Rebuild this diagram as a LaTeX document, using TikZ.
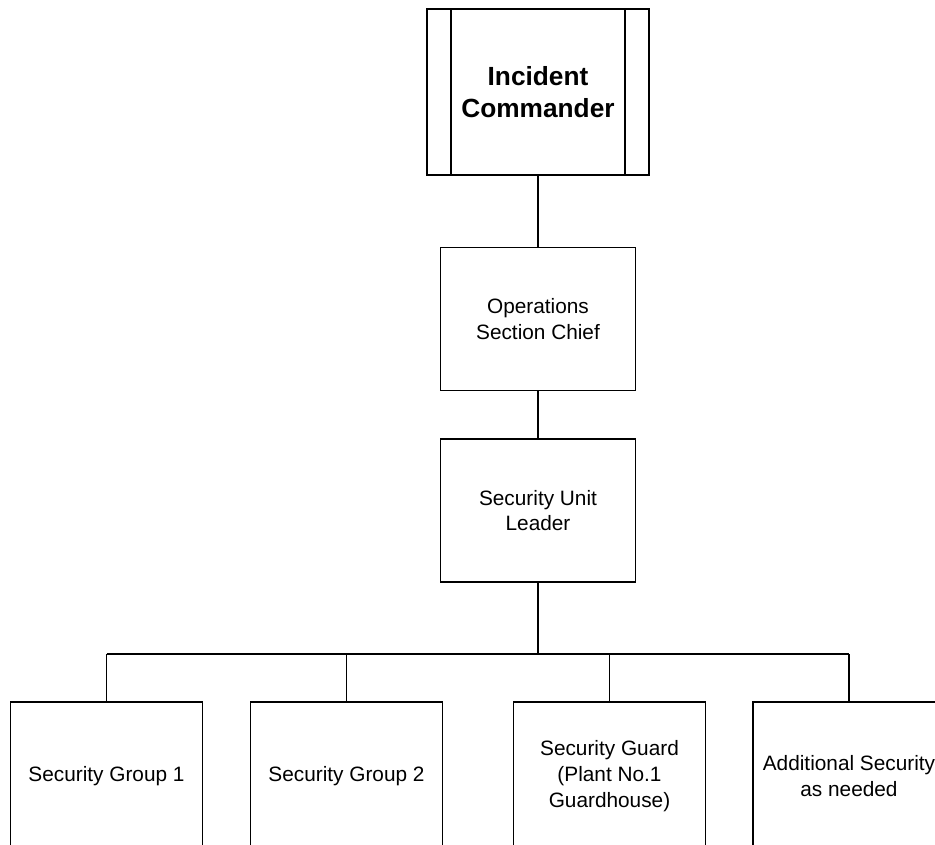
\documentclass[tikz,border=0pt]{standalone}
\usepackage{fontspec}
\setmainfont{Liberation Sans}
\usetikzlibrary{calc}
\begin{document}
\begin{tikzpicture}[
  x=0.75pt, y=-0.75pt,
  line width=1.1pt,
  box/.style={draw, inner sep=0pt, outer sep=0pt, align=center,
    minimum width=146.25pt, minimum height=107.5pt,
    font=\fontsize{15.6}{19.3}\selectfont},
  leafbox/.style={box, minimum width=144pt, minimum height=111pt},
  topbox/.style={box, minimum width=166.5pt, minimum height=124.5pt,
    font=\fontsize{19.7}{24.5}\selectfont\bfseries},
  link/.style={draw}
]
\useasboundingbox (0,0) rectangle (935,844);
\clip (0,0) rectangle (935,844);

% chain of command
\node[topbox] (ic)  at (538,92)    {Incident\\Commander};
\node[box]    (osc) at (538,319)   {Operations\\Section Chief};
\node[box]    (sul) at (538,510.5) {Security Unit\\Leader};

% side bars of the commander box
\draw ($(ic.north west)+(24,0)$) -- ($(ic.south west)+(24,0)$);
\draw ($(ic.north east)+(-24,0)$) -- ($(ic.south east)+(-24,0)$);

% security teams (their lower edges run past the page)
\node[leafbox] (g1) at (106.5,776) {Security Group 1};
\node[leafbox] (g2) at (346.5,776) {Security Group 2};
\node[leafbox] (g3) at (609.5,776) {Security Guard\\(Plant No.1\\Guardhouse)};
\node[leafbox] (g4) at (849,776)   {Additional Security\\as needed};

% connectors
\coordinate (bus) at (538,654);
\draw[link] (ic.south) -- (osc.north);
\draw[link] (osc.south) -- (sul.north);
\draw[link] (sul.south) -- (bus);
\draw[link] (g1.north |- bus) -- (g4.north |- bus);
\foreach \g in {g1,g2,g3,g4}
  \draw[link] (\g.north |- bus) -- (\g.north);
\end{tikzpicture}
\end{document}
